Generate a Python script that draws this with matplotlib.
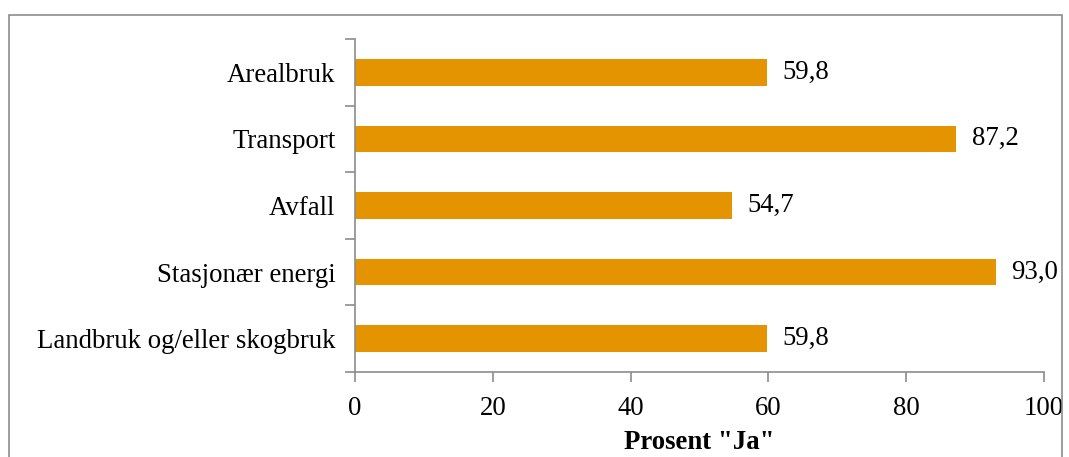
import numpy as np
import matplotlib.pyplot as plt
from matplotlib.patches import Rectangle

# data (top to bottom as shown)
categories = ["Arealbruk", "Transport", "Avfall", "Stasjonær energi", "Landbruk og/eller skogbruk"]
values = [59.8, 87.2, 54.7, 93.0, 59.8]

plt.rcParams['font.family'] = ['Liberation Serif', 'DejaVu Serif']
fs = 19.3

fig = plt.figure(figsize=(10.69, 4.57), dpi=100)
ax = fig.add_axes([355/1069, 1-372/457, (1044-355)/1069, (372-39)/457])

# outer chart frame
fig.patches.append(Rectangle((9/1069, -0.05), (1062-9)/1069, 1-15/457+0.05,
                             transform=fig.transFigure, fill=False,
                             edgecolor='#8c8c8c', linewidth=1.2))

y = np.arange(len(categories))[::-1]
ax.barh(y, values, height=0.4, color='#E49400')
for yi, v in zip(y, values):
    ax.text(v + 2.3, yi, f"{v:.1f}".replace('.', ','), va='center', ha='left', fontsize=fs)

ax.set_xlim(0, 100)
ax.set_ylim(-0.5, len(categories) - 0.5)
ax.set_xticks(np.arange(0, 101, 20))
ax.tick_params(axis='x', labelsize=fs, length=7, width=1.2, color='#8c8c8c', pad=10)

# category ticks between bars, labels at centers
ax.set_yticks(np.arange(-0.5, len(categories), 1.0))
ax.set_yticklabels([])
ax.set_yticks(y, minor=True)
ax.set_yticklabels(categories, minor=True, fontsize=fs)
ax.tick_params(axis='y', which='major', length=7, width=1.2, color='#8c8c8c')
ax.tick_params(axis='y', which='minor', length=0, pad=14)

for s in ['top', 'right']:
    ax.spines[s].set_visible(False)
for s in ['left', 'bottom']:
    ax.spines[s].set_color('#8c8c8c')
    ax.spines[s].set_linewidth(1.2)

ax.set_xlabel('Prosent "Ja"', fontsize=fs, fontweight='bold', labelpad=7)

fig.savefig("out.png", dpi=100)
